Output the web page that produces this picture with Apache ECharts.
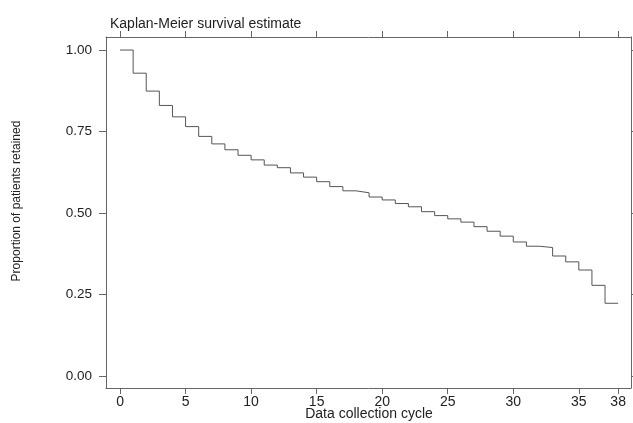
<!DOCTYPE html>
<html>
<head>
<meta charset="utf-8">
<script src="https://cdn.jsdelivr.net/npm/echarts@6/dist/echarts.min.js"></script>
<style>
html,body{margin:0;padding:0;background:#fff;}
#c{width:633px;height:423px;}
</style>
</head>
<body>
<div id="c"></div>
<script>
// Data collection cycle (start of each interval) and Kaplan-Meier survival estimate
const cycles = [0,1,2,3,4,5,6,7,8,9,10,11,12,13,14,15,16,17,18,19,20,21,22,23,24,25,26,27,28,29,30,31,32,33,34,35,36,37,38];
const survival = [1.000,0.929,0.874,0.830,0.795,0.765,0.735,0.712,0.694,0.677,0.663,0.647,0.639,0.623,0.610,0.596,0.581,0.568,0.562,0.549,0.540,0.529,0.519,0.504,0.492,0.482,0.472,0.458,0.444,0.429,0.411,0.398,0.394,0.368,0.350,0.325,0.278,0.223,0.223];
const xTicks = [0,5,10,15,20,25,30,35,38];
const yTicks = [0,0.25,0.5,0.75,1];
const titleText = 'Kaplan-Meier survival estimate';
const xName = 'Data collection cycle';
const yName = 'Proportion of patients retained';

const FONT = 'Liberation Sans, Arial, sans-serif';
const AX = '#666';
const TXT = '#222';

const chart = echarts.init(document.getElementById('c'), null, {renderer:'canvas'});
const xBase = {
  type:'value', min:-1.07, max:38.98,
  splitLine:{show:false},
  axisLine:{show:true, onZero:false, lineStyle:{color:AX, width:1}},
  axisTick:{show:true, length:6, customValues:xTicks, lineStyle:{color:AX}},
};
const yBase = {
  type:'value', min:-0.037, max:1.04,
  splitLine:{show:false},
  axisLine:{show:true, onZero:false, lineStyle:{color:AX, width:1}},
  axisTick:{show:true, length:7, customValues:yTicks, lineStyle:{color:AX}},
};
chart.setOption({
  animation:false,
  title:{text:titleText, left:105, top:12, textStyle:{fontFamily:FONT, fontSize:14, fontWeight:'normal', color:TXT}},
  grid:{left:106, right:2, top:37, bottom:35, containLabel:false, outerBoundsMode:'none'},
  xAxis:[
    Object.assign({}, xBase, {
      position:'bottom',
      axisLabel:{show:true, customValues:xTicks, margin:7, fontFamily:FONT, fontSize:14, color:TXT}
    }),
    Object.assign({}, xBase, {position:'top', axisLabel:{show:false}})
  ],
  yAxis:[
    Object.assign({}, yBase, {
      position:'left',
      axisLabel:{show:true, customValues:yTicks, margin:14, fontFamily:FONT, fontSize:13.5, color:TXT,
        formatter:v=>v.toFixed(2)}
    }),
    Object.assign({}, yBase, {position:'right', axisLabel:{show:false}})
  ],
  graphic:[{
    type:'text', x:17, y:201, rotation:Math.PI/2,
    style:{text:yName, fontFamily:FONT, fontSize:12, fill:TXT, align:'center', verticalAlign:'middle'}
  },{
    type:'text', x:369, y:414,
    style:{text:xName, fontFamily:FONT, fontSize:14, fill:TXT, align:'center', verticalAlign:'middle'}
  }],
  series:[{
    type:'line', step:'end', xAxisIndex:0, yAxisIndex:0,
    data:cycles.map((c,i)=>[c, survival[i]]),
    showSymbol:false, symbol:'none',
    lineStyle:{color:'#555', width:1}
  }]
});
</script>
</body>
</html>
